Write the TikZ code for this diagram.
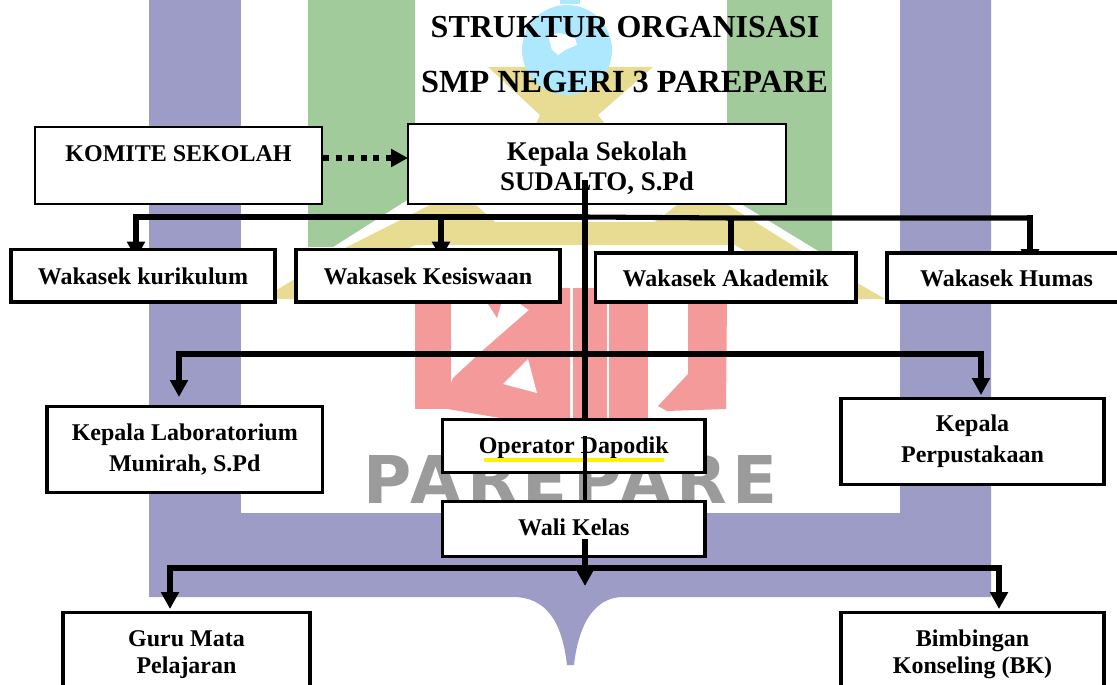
\documentclass[tikz,border=0pt]{standalone}
\usepackage{fontspec}
\setmainfont{Liberation Serif}
\newfontfamily\wmfont[LetterSpace=8]{DejaVu Sans}
\usetikzlibrary{arrows.meta,calc}
\definecolor{cPurple}{HTML}{9C9CC6}
\definecolor{cGreen}{HTML}{A1CB9A}
\definecolor{cGold}{HTML}{E8DB92}
\definecolor{cRed}{HTML}{F49A9A}
\definecolor{cBlue}{HTML}{ADE8FF}
\definecolor{cGray}{HTML}{9B9B9B}
\newlength\px \setlength\px{0.75pt}
\newcommand{\oneln}[2]{\raisebox{#1\px}[0pt][0pt]{\makebox[0pt]{#2}}}
\newcommand{\twoln}[4]{\raisebox{#1\px}[0pt][0pt]{\makebox[0pt]{#3}\raisebox{-#2\px}[0pt][0pt]{\makebox[0pt]{#4}}}}
% name, x1, y1, x2, y2, style, text
\newcommand{\bx}[7]{\node[#6,minimum width={(#4-#2)*0.75pt},minimum height={(#5-#3)*0.75pt}] (#1) at ({(#2+#4)/2},{(#3+#5)/2}) {#7};}
\pgfdeclarelayer{bgl}
\pgfdeclarelayer{connl}
\pgfsetlayers{bgl,connl,main}
\tikzset{
  thinbox/.style={draw=black,fill=white,line width=1.6pt,inner sep=0pt,font=\fontsize{18}{20}\selectfont\bfseries},
  thickbox/.style={draw=black,fill=white,line width=2.8pt,inner sep=0pt,font=\fontsize{18}{20}\selectfont\bfseries},
  headbox/.style={thinbox,font=\fontsize{20.2}{22}\selectfont\bfseries},
  titletext/.style={anchor=base,font=\fontsize{24}{26}\selectfont\bfseries},
  conn/.style={draw=black,line width=4.2pt},
  tip/.style={-{Triangle[length=12.75pt,width=13pt]}},
  twotips/.style={{Triangle[length=12.75pt,width=13pt]}-{Triangle[length=12.75pt,width=13pt]}},
  dotarrow/.style={draw=black,line width=5pt,dash pattern=on 4.6pt off 4.8pt,-{Triangle[length=12.75pt,width=13pt]}}
}
\begin{document}
\begin{tikzpicture}[x=0.75pt,y=-0.75pt]
\useasboundingbox (0,0) rectangle (1117,685);
\begin{pgfonlayer}{bgl}
\fill[white] (0,0) rectangle (1117,685);
% frame
\fill[cPurple] (149,-5) -- (149,597) -- (513,597) .. controls (545,597) and (562,620) .. (567,665) -- (574,665) .. controls (579,620) and (597,597) .. (623,597) -- (991,597) -- (991,-5) -- cycle;
\fill[white] (241,-5) rectangle (900,513);
% green bars
\fill[cGreen] (308,-5) -- (415,-5) -- (415,195) -- (333,247) -- (308,247) -- cycle;
\fill[cGreen] (727,-5) -- (832,-5) -- (832,252) -- (820,252) -- (743,205) -- (727,195) -- cycle;
% roof
\fill[cGold] (430,205) -- (476,205) -- (495,222) -- (655,222) -- (677,205) -- (728,205) -- (800,250) -- (885,299) -- (825,299) -- (735,245) -- (415,245) -- (315,299) -- (262,299) -- (347,247) -- cycle;
% chalice and globe
\fill[cGold] (488,67) -- (653,67) -- (598,115) -- (605,124) -- (536,124) -- (540,115) -- cycle;
\fill[cBlue] (567,50) circle[radius=45];
\fill[cBlue] (560,-2) rectangle (580,4);
\fill[white] (548,35) -- (560,33) -- (575,38) -- (577,45) -- (565,50) -- (558,55) -- (552,50) -- cycle;
% red letters
\fill[cRed] (415,296) rectangle (451,409);
\fill[cRed] (488,304) -- (501,304) -- (497,318) -- cycle;
\fill[cRed] (520,304) -- (529,310) -- (482,351) -- (453,378) -- (442,408) -- (500,418) -- (570,418) -- (570,288) -- (520,288) -- cycle;
\fill[white] (528,359) -- (537,393) -- (503,384) -- cycle;
\fill[cRed] (573,288) rectangle (607,418);
\fill[cRed] (609,288) rectangle (648,418);
\fill[cRed] (688,296) -- (727,296) -- (726,409) -- (667,411) -- (658,406) -- (688,374) -- cycle;
\node[anchor=base west,inner sep=0pt,text=cGray,font=\wmfont\fontsize{49.4}{52}\selectfont\bfseries] (wm) at (363,503) {PAREPARE};
\end{pgfonlayer}

% titles
\node[titletext] (t1) at (625,38) {STRUKTUR ORGANISASI};
\node[titletext,font=\fontsize{24.2}{26}\selectfont\bfseries] (t2) at (624.5,93) {SMP NEGERI 3 PAREPARE};

% boxes
\bx{kom}{35}{127}{322}{204}{thinbox}{\oneln{4.5}{KOMITE SEKOLAH}}
\bx{kep}{408}{124}{786}{204}{headbox}{\twoln{4}{30.5}{Kepala Sekolah}{SUDALTO, S.Pd}}
\bx{kur}{11}{249.5}{275}{302}{thickbox}{\oneln{-8.5}{Wakasek kurikulum}}
\bx{kes}{296}{249.5}{560}{302}{thickbox}{\oneln{-8.5}{Wakasek Kesiswaan}}
\bx{aka}{595.5}{253}{856}{302}{thickbox}{\oneln{-9}{Wakasek Akademik}}
\bx{hum}{887}{253}{1126}{302}{thickbox}{\oneln{-9}{Wakasek Humas}}
\bx{lab}{47}{406.5}{322.5}{492.5}{thickbox}{\twoln{9.5}{31.5}{Kepala Laboratorium}{Munirah, S.Pd}}
\bx{per}{841}{398.5}{1104}{484.5}{thickbox}{\twoln{10.5}{31.5}{Kepala}{Perpustakaan}}
\bx{op}{442.5}{419.5}{705}{472.5}{thickbox}{\oneln{-7}{Operator Dapodik}}
\bx{wal}{442.5}{501.5}{705}{556.5}{thickbox}{\oneln{-6}{Wali Kelas}}
\bx{gur}{63}{612.5}{310}{700}{thickbox}{\twoln{9.5}{27}{Guru Mata}{Pelajaran}}
\bx{bim}{841}{612.5}{1104}{700}{thickbox}{\twoln{9.5}{27}{Bimbingan}{Konseling (BK)}}

% yellow underline of the operator label
\coordinate (ulL) at (484,460);
\coordinate (ulR) at (664,460);
\fill[yellow] ($(ulL)+(0,-2)$) rectangle ($(ulR)+(0,2)$);

\begin{pgfonlayer}{connl}
\coordinate (kepin) at (408,158);
\draw[dotarrow] (kom.east |- kepin) -- (kepin);
% bus one
\coordinate (b1a) at (136,217);
\coordinate (b1b) at (441,217);
\coordinate (b1m) at (585,217);
\coordinate (b1c) at (731,218);
\coordinate (b1d) at (1030,218);
\draw[conn,line width=4.6pt] (b1a) -- (b1m);
\draw[conn,line width=3.8pt] (b1m) -- (b1c) -- (b1d);
\draw[conn,tip] ([yshift=2.3pt]b1a) -- ($(b1a |- kur.north)+(0,11)$);
\draw[conn,tip] (b1b) -- ($(b1b |- kes.north)+(0,11)$);
\draw[conn,line width=3.8pt,tip] (b1c) -- ($(b1c |- aka.north)+(0,20)$);
\draw[conn,line width=3.8pt,tip] ([yshift=1.9pt]b1d) -- ($(b1d |- hum.north)+(0,15)$);
% bus two
\coordinate (b2a) at (179,354);
\coordinate (b2b) at (981,354);
\coordinate (labin) at (179,397);
\coordinate (perin) at (981,395);
\draw[conn,twotips] (labin) -- (b2a) -- (b2b) -- (perin);
% bus three
\coordinate (b3a) at (170,568);
\coordinate (b3b) at (999,568);
\coordinate (gurin) at (170,609);
\coordinate (bimin) at (999,609);
\draw[conn,twotips] (gurin) -- (b3a) -- (b3b) -- (bimin);
\end{pgfonlayer}

% trunk, drawn over the boxes
\coordinate (tr0) at (585,180);
\coordinate (tr1) at (585,436);
\coordinate (tr2) at (585,539);
\coordinate (tr3) at (585,586);
\draw[conn] (tr0) -- (tr0 |- op.north);
\draw[conn,line width=3.6pt] (tr1) -- (tr1 |- wal.north);
\draw[conn,tip] (tr2) -- (tr3);
\end{tikzpicture}
\end{document}
